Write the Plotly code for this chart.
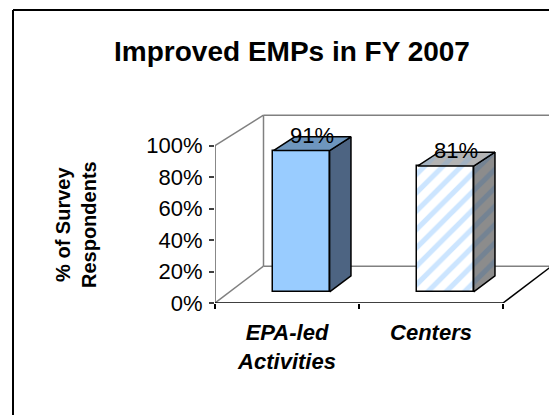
import plotly.graph_objects as go

# ---- data ----
categories = ["EPA-led<br>Activities", "Centers"]
values = [91, 81]
y_ticks = [0, 20, 40, 60, 80, 100]
title_text = "Improved EMPs in FY 2007"
y_title = "% of Survey<br>Respondents"

# ---- 3D projection helpers (oblique view, data units) ----
DX = 48.5 / 144.0      # x shift of full depth, in category units
DY = 36.8 / 1.573      # y shift of full depth, in percent units
SH = 0.04              # height shrink at back wall
D0, D1 = 0.30, 0.74    # bar depth span
HW = 0.195             # half bar width

def proj(x, y, d):
    return x + d * DX, y * (1 - SH * d) + d * DY

FONT = "Liberation Sans, Arial, sans-serif"
OFF = 8  # page body margin
W, H = 557 - OFF, 415 - OFF

fig = go.Figure()

front_patterns = [
    dict(shape="", fgcolor="#99CCFF", bgcolor="#99CCFF"),
    dict(shape="/", fgcolor="#99CCFF", bgcolor="#FFFFFF", size=13, solidity=0.4),
]
side_styles = [
    dict(fillcolor="#4D6482", pat=None),
    dict(fillcolor="#8C8C8C", pat=dict(shape="/", fgcolor="#5C7A9A", bgcolor="#8C8C8C", size=13, solidity=0.4)),
]
top_styles = [
    dict(fillcolor="#6E96BE", pat=None),
    dict(fillcolor="#B4B4B4", pat=dict(shape="/", fgcolor="#8FB0D0", bgcolor="#B4B4B4", size=13, solidity=0.4)),
]

for i, v in enumerate(values):
    xl, xr = i - HW, i + HW
    pts = [proj(xr, 0, D0), proj(xr, 0, D1), proj(xr, v, D1), proj(xr, v, D0), proj(xr, 0, D0)]
    kw = dict(fill="toself", fillcolor=side_styles[i]["fillcolor"])
    if side_styles[i]["pat"]:
        kw["fillpattern"] = side_styles[i]["pat"]
    fig.add_trace(go.Scatter(x=[p[0] for p in pts], y=[p[1] for p in pts], mode="lines",
                             line=dict(color="black", width=1.5), hoverinfo="skip", showlegend=False, **kw))
    pts = [proj(xl, v, D0), proj(xr, v, D0), proj(xr, v, D1), proj(xl, v, D1), proj(xl, v, D0)]
    kw = dict(fill="toself", fillcolor=top_styles[i]["fillcolor"])
    if top_styles[i]["pat"]:
        kw["fillpattern"] = top_styles[i]["pat"]
    fig.add_trace(go.Scatter(x=[p[0] for p in pts], y=[p[1] for p in pts], mode="lines",
                             line=dict(color="black", width=1.5), hoverinfo="skip", showlegend=False, **kw))
    bx, by0 = proj(i, 0, D0)
    _, byt = proj(i, v, D0)
    fig.add_trace(go.Bar(x=[bx], y=[byt - by0], base=[by0], width=[2 * HW],
                         marker=dict(color="#99CCFF" if i == 0 else "#FFFFFF",
                                     pattern=front_patterns[i],
                                     line=dict(color="black", width=1.5)),
                         hoverinfo="skip", showlegend=False))
    lx, _ = proj(i, v, (D0 + D1) / 2)
    _, ly = proj(i, v, D1)
    fig.add_annotation(x=lx, y=ly + 1, xref="x", yref="y", text=f"{v}%", showarrow=False,
                       yanchor="middle", font=dict(family=FONT, size=22, color="black"))

# ---- walls / floor ----
x0, x1 = -0.5, len(values) - 0.5
ymax = y_ticks[-1]
gray = "#808080"

def seg(a, b, color=gray, width=1.5):
    fig.add_shape(type="line", xref="x", yref="y", x0=a[0], y0=a[1], x1=b[0], y1=b[1],
                  line=dict(color=color, width=width), layer="below")

seg(proj(x0, 0, 1), proj(x0, ymax, 1))
seg(proj(x0, ymax, 1), proj(x1, ymax, 1))
seg(proj(x1, ymax, 1), proj(x1, 0, 1))
seg(proj(x0, 0, 1), proj(x1, 0, 1))
seg(proj(x0, ymax, 0), proj(x0, ymax, 1))
seg(proj(x0, 0, 0), proj(x0, 0, 1))
seg(proj(x0, 0, 0), proj(x0, ymax, 0), color="#606060")
seg(proj(x0, 0, 0), proj(x1, 0, 0), color="black")
seg(proj(x1, 0, 0), proj(x1, 0, 1), color="black")

# ---- plot area in figure pixels ----
L, R, T, B = 215 - OFF, 557 - OFF, 100 - OFF, 303 - OFF
def px_x(p): return (p - OFF - L) / (R - L)
def px_y(p): return (B - (p - OFF)) / (B - T)

fig.add_shape(type="line", xref="paper", yref="paper",
              x0=px_x(13), y0=px_y(10), x1=px_x(13), y1=px_y(430),
              line=dict(color="black", width=2))
fig.add_shape(type="line", xref="paper", yref="paper",
              x0=px_x(13), y0=px_y(10), x1=px_x(580), y1=px_y(10),
              line=dict(color="black", width=2))

fig.add_annotation(xref="paper", yref="paper", x=px_x(76), y=px_y(225),
                   text=f"<b>{y_title}</b>", textangle=-90, showarrow=False,
                   xanchor="center", yanchor="middle",
                   font=dict(family=FONT, size=20, color="black"))

fig.update_layout(
    width=W, height=H, autosize=False,
    margin=dict(l=L, r=W - R, t=T, b=H - B, pad=0),
    paper_bgcolor="white", plot_bgcolor="white",
    title=dict(text=f"<b>{title_text}</b>", xref="container", yref="container",
               x=(292 - OFF) / W, y=1 - (51 - OFF) / H, xanchor="center", yanchor="middle",
               font=dict(family=FONT, size=28, color="black")),
    xaxis=dict(range=[-0.5, -0.5 + (R - L) / 144.0], showgrid=False, zeroline=False, showline=False,
               tickmode="array", tickvals=list(range(len(categories))), ticktext=categories,
               ticks="", ticklabelstandoff=14,
               tickfont=dict(family=FONT, size=22, color="black", weight="bold", style="italic"),
               minor=dict(tickmode="array", tickvals=[x0 + k for k in range(len(values) + 1)],
                          ticks="outside", ticklen=5, tickcolor="black", tickwidth=1.5, showgrid=False)),
    yaxis=dict(range=[0, (B - T) / 1.573], showgrid=False, zeroline=False, showline=False,
               tickmode="array", tickvals=y_ticks, ticktext=[f"{t}%" for t in y_ticks],
               ticks="outside", ticklen=5, tickcolor="#404040", tickwidth=1.5,
               ticklabelstandoff=2,
               tickfont=dict(family=FONT, size=22, color="black")),
    bargap=0,
)

fig.write_html("out.html")
